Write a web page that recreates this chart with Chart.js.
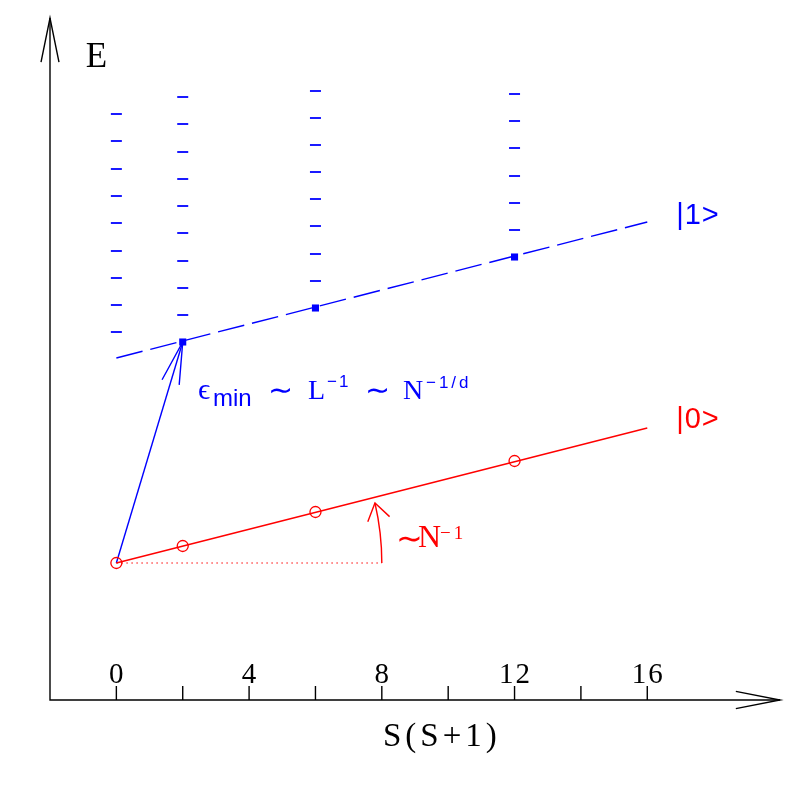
<!DOCTYPE html>
<html>
<head>
<meta charset="utf-8">
<script src="https://cdn.jsdelivr.net/npm/chart.js@4/dist/chart.umd.min.js"></script>
<style>
  html, body { margin: 0; padding: 0; background: #ffffff; }
  #wrap { width: 797px; height: 797px; }
</style>
</head>
<body>
<div id="wrap"><canvas id="c" width="797" height="797"></canvas></div>
<script>
// ---- data ----
const sValues      = [0, 2, 6, 12];               // S(S+1) of the lowest states
const groundE      = [13.7, 15.4, 18.8, 23.9];    // |0> tower (open circles)
const groundLineS  = [0, 16];
const groundLineE  = [13.7, 27.2];
const excitedS     = [2, 6, 12];                  // |1> tower (filled squares)
const excitedE     = [35.8, 39.2, 44.3];
const excitedLineS = [0, 16];
const excitedLineE = [34.2, 47.8];
const levelsS0  = [58.6, 55.9, 53.1, 50.4, 47.7, 44.9, 42.2, 39.5, 36.8];
const levelsS2  = [60.3, 57.6, 54.8, 52.1, 49.4, 46.7, 43.9, 41.2, 38.5];
const levelsS6  = [60.9, 58.2, 55.5, 52.8, 50.1, 47.4, 44.6, 41.9];
const levelsS12 = [60.6, 57.9, 55.2, 52.4, 49.7, 47.0];
const levelColumns = [[0, levelsS0], [2, levelsS2], [6, levelsS6], [12, levelsS12]];
const gapArrowS = [0, 2];          // blue arrow from ground to first excited level
const gapArrowE = [13.7, 35.8];
const flatS = [0, 8];              // dotted reference line
const flatE = [13.7, 13.7];
const xTickLabels = [0, 4, 8, 12, 16];
const xTickMarks  = [0, 2, 4, 6, 8, 10, 12, 14, 16];
const xTitle = 'S(S+1)';
const yTitle = 'E';

const RED = '#ff0000', BLUE = '#0000ff';

const pts = (xs, ys) => xs.map((x, i) => ({ x: x, y: ys[i] }));
const levelPts = [];
levelColumns.forEach(([s, arr]) => arr.forEach(e => levelPts.push({ x: s, y: e })));

function arrowHead(ctx, tx, ty, fx, fy, len, halfDeg) {
  const a = Math.atan2(fy - ty, fx - tx);
  const h = halfDeg * Math.PI / 180;
  ctx.beginPath();
  ctx.moveTo(tx + len * Math.cos(a + h), ty + len * Math.sin(a + h));
  ctx.lineTo(tx, ty);
  ctx.lineTo(tx + len * Math.cos(a - h), ty + len * Math.sin(a - h));
  ctx.stroke();
}
function runs(ctx, x, y, color, list) {
  ctx.fillStyle = color;
  ctx.textAlign = 'left';
  ctx.textBaseline = 'alphabetic';
  list.forEach(r => {
    ctx.font = r.f;
    ctx.letterSpacing = r.ls || '0px';
    ctx.fillText(r.t, x + r.dx, y + (r.dy || 0));
  });
  ctx.letterSpacing = '0px';
}

const SERIF = '"Liberation Serif", "DejaVu Serif", serif';
const SANS = '"Liberation Sans", "DejaVu Sans", sans-serif';
const TILDE = '"DejaVu Sans", sans-serif';

const decor = {
  id: 'decor',
  afterDatasetsDraw(chart) {
    const ctx = chart.ctx;
    const xs = chart.scales.x, ys = chart.scales.y;
    const X = v => xs.getPixelForValue(v), Y = v => ys.getPixelForValue(v);
    ctx.save();
    // axes
    ctx.strokeStyle = '#000'; ctx.lineWidth = 1.4;
    const x0 = X(-2), y0 = Y(0), xEnd = X(20), yEnd = Y(68.2);
    ctx.beginPath();
    ctx.moveTo(x0, yEnd); ctx.lineTo(x0, y0); ctx.lineTo(xEnd, y0);
    ctx.stroke();
    arrowHead(ctx, x0, yEnd, x0, y0, 45, 11.5);
    arrowHead(ctx, xEnd, y0, x0, y0, 45, 11);
    // ticks
    ctx.beginPath();
    xTickMarks.forEach(v => { ctx.moveTo(X(v), y0); ctx.lineTo(X(v), y0 - 14); });
    ctx.stroke();
    ctx.fillStyle = '#000';
    ctx.font = '29px ' + SERIF;
    ctx.textAlign = 'center'; ctx.textBaseline = 'alphabetic';
    ctx.letterSpacing = '2px';
    xTickLabels.forEach(v => ctx.fillText(String(v), X(v) + 1, y0 - 17));
    ctx.letterSpacing = '4px';
    ctx.font = '33px ' + SERIF;
    ctx.fillText(xTitle, X(9.75) + 2, y0 + 46);
    ctx.letterSpacing = '0px';
    ctx.font = '35px ' + SERIF;
    ctx.textAlign = 'left';
    ctx.fillText(yTitle, X(-0.92), Y(63.3));

    // blue arrow head
    ctx.strokeStyle = BLUE; ctx.lineWidth = 1.4;
    arrowHead(ctx, X(gapArrowS[1]), Y(gapArrowE[1]), X(gapArrowS[0]), Y(gapArrowE[0]), 43, 12);

    // red arc arrow
    ctx.strokeStyle = RED; ctx.lineWidth = 1.4;
    const cx = X(flatS[0]), cy = Y(flatE[0]);
    const r = X(flatS[1]) - cx;
    const endA = -Math.asin((Y(flatE[0]) - Y(19.7)) / r);
    ctx.beginPath();
    ctx.arc(cx, cy, r, 0, endA, true);
    ctx.stroke();
    const tx = cx + r * Math.cos(endA), ty = cy + r * Math.sin(endA);
    arrowHead(ctx, tx, ty, tx + Math.sin(-endA) * 10, ty + Math.cos(endA) * 10, 20, 34);

    // texts
    runs(ctx, X(16.87), Y(47.6), BLUE, [{ t: '|1>', dx: 0, f: '29px ' + SANS, ls: '1px' }]);
    runs(ctx, X(16.87), Y(27.2), RED,  [{ t: '|0>', dx: 0, f: '29px ' + SANS, ls: '1px' }]);
    runs(ctx, X(2.46), Y(30.1), BLUE, [
      { t: 'ϵ', dx: 0, f: '30px ' + SERIF },
      { t: 'min', dx: 15, dy: 7, f: '24px ' + SANS },
      { t: '\u223C', dx: 70, dy: 1, f: '30px ' + TILDE },
      { t: 'L', dx: 110, f: '28px ' + SERIF },
      { t: '\u22121', dx: 129, dy: -12, f: '17px ' + SANS, ls: '2px' },
      { t: '\u223C', dx: 167, dy: 1, f: '30px ' + TILDE },
      { t: 'N', dx: 205, f: '28px ' + SERIF },
      { t: '\u22121/d', dx: 228, dy: -11, f: '17px ' + SANS, ls: '3px' }
    ]);
    runs(ctx, X(8.46), Y(15.3), RED, [
      { t: '\u223C', dx: -1, dy: 2, f: '32px ' + TILDE },
      { t: 'N', dx: 21, f: '32px ' + SERIF },
      { t: '\u22121', dx: 43, dy: -8, f: '19px ' + SERIF, ls: '3px' }
    ]);
    ctx.restore();
  }
};

new Chart(document.getElementById('c'), {
  type: 'scatter',
  data: {
    datasets: [
      { label: 'levels', data: levelPts, showLine: false, pointStyle: 'line',
        pointRadius: 5.5, pointBorderWidth: 1.8, borderColor: BLUE, backgroundColor: BLUE },
      { label: 'flat', data: pts(flatS, flatE), showLine: true, pointRadius: 0,
        borderColor: RED, borderWidth: 1.2, borderDash: [1.5, 3.5] },
      { label: 'ground line', data: pts(groundLineS, groundLineE), showLine: true, pointRadius: 0,
        borderColor: RED, borderWidth: 1.4 },
      { label: 'ground', data: pts(sValues, groundE), showLine: false, pointStyle: 'circle',
        pointRadius: 5.5, pointBorderWidth: 1.3, borderColor: RED, backgroundColor: 'rgba(0,0,0,0)' },
      { label: 'excited line', data: pts(excitedLineS, excitedLineE), showLine: true, pointRadius: 0,
        borderColor: BLUE, borderWidth: 1.4, borderDash: [27, 8] },
      { label: 'excited', data: pts(excitedS, excitedE), showLine: false, pointStyle: 'rect',
        pointRadius: 5, borderColor: BLUE, backgroundColor: BLUE, pointBorderWidth: 0 },
      { label: 'gap', data: pts(gapArrowS, gapArrowE), showLine: true, pointRadius: 0,
        borderColor: BLUE, borderWidth: 1.4 }
    ]
  },
  options: {
    responsive: false,
    animation: false,
    layout: { autoPadding: false, padding: { left: 50, right: 17, top: 0, bottom: 97 } },
    scales: {
      x: { type: 'linear', min: -2, max: 20, display: false },
      y: { type: 'linear', min: 0, max: 70, display: false }
    },
    plugins: { legend: { display: false }, tooltip: { enabled: false } },
    elements: { line: { tension: 0 } },
    clip: false
  },
  plugins: [decor]
});
</script>
</body>
</html>
